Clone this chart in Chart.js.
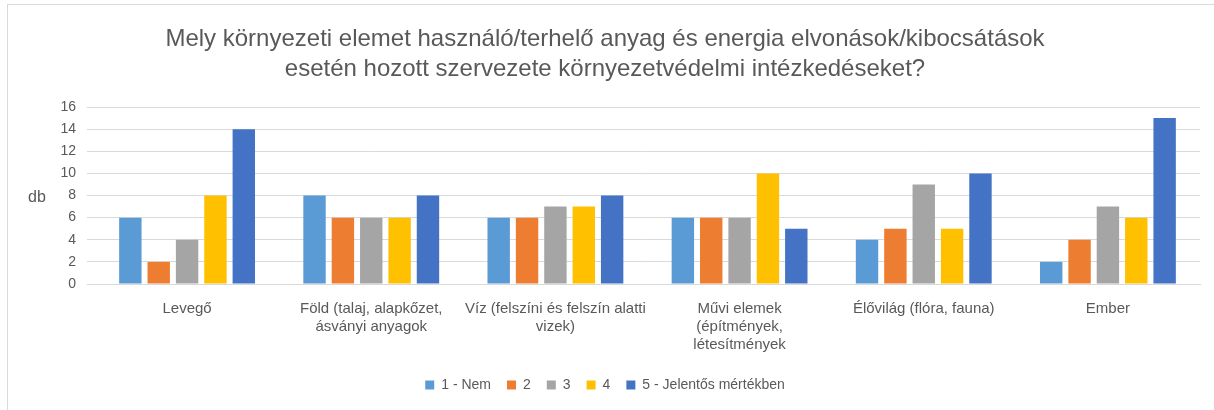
<!DOCTYPE html>
<html>
<head>
<meta charset="utf-8">
<script src="https://cdn.jsdelivr.net/npm/chart.js@4/dist/chart.umd.min.js"></script>
<style>
  body { margin: 0; background: #fff; }
  #wrap { position: relative; width: 1214px; height: 410px; }
  #frame { position: absolute; left: 7px; top: 4px; right: 0; bottom: 0; border-left: 1px solid #d9d9d9; border-top: 1px solid #d9d9d9; }
  canvas { position: absolute; left: 0; top: 0; }
</style>
</head>
<body>
<div id="wrap">
  <div id="frame"></div>
  <canvas id="chart" width="1214" height="410"></canvas>
</div>
<script>
const categories = [
  "Levegő",
  ["Föld (talaj, alapkőzet,", "ásványi anyagok"],
  ["Víz (felszíni és felszín alatti", "vizek)"],
  ["Művi elemek", "(építmények,", "létesítmények"],
  "Élővilág (flóra, fauna)",
  "Ember"
];
const seriesNames = ["1 - Nem", "2", "3", "4", "5 - Jelentős mértékben"];
const nem = [6, 8, 6, 6, 4, 2];
const ketto = [2, 6, 6, 6, 5, 4];
const harom = [4, 6, 7, 6, 9, 7];
const negy = [8, 6, 7, 10, 5, 6];
const jelentos = [14, 8, 8, 5, 10, 15];
const colors = ["#5B9BD5", "#ED7D31", "#A5A5A5", "#FFC000", "#4472C4"];

const font = "'Liberation Sans', Arial, sans-serif";
const gray = "#595959";

// "db" felirat vízszintesen, a tengely mellett
const dbLabel = {
  id: 'dbLabel',
  afterDraw(chart) {
    const ctx = chart.ctx;
    const a = chart.chartArea;
    ctx.save();
    ctx.font = "16px " + font;
    ctx.fillStyle = gray;
    ctx.textAlign = "center";
    ctx.textBaseline = "middle";
    ctx.fillText("db", 37, (a.top + a.bottom) / 2 + 2);
    ctx.restore();
  }
};

const values = [nem, ketto, harom, negy, jelentos];

new Chart(document.getElementById('chart'), {
  type: 'bar',
  data: {
    labels: categories,
    datasets: values.map((v, i) => ({
      label: seriesNames[i],
      data: v,
      backgroundColor: colors[i],
      categoryPercentage: 0.77,
      barPercentage: 0.79
    }))
  },
  options: {
    responsive: false,
    animation: false,
    layout: { padding: { left: 10, right: 14, top: 0, bottom: 8 } },
    plugins: {
      title: {
        display: true,
        text: ["Mely környezeti elemet használó/terhelő anyag és energia elvonások/kibocsátások",
               "esetén hozott szervezete környezetvédelmi intézkedéseket?"],
        color: gray,
        font: { family: font, size: 24, weight: 'normal', lineHeight: 1.25 },
        padding: { top: 24, bottom: 23 }
      },
      legend: {
        position: 'bottom',
        labels: {
          color: gray,
          font: { family: font, size: 14 },
          boxWidth: 9,
          boxHeight: 9,
          padding: 16
        }
      },
      tooltip: { enabled: false }
    },
    scales: {
      x: {
        grid: { display: false },
        border: { color: "#d9d9d9" },
        ticks: { color: gray, font: { family: font, size: 15, lineHeight: 1.2 }, maxRotation: 0, autoSkip: false, padding: 8 }
      },
      y: {
        min: 0,
        max: 16,
        ticks: { stepSize: 2, color: gray, font: { family: font, size: 14 }, padding: 11 },
        grid: { color: "#d9d9d9" },
        border: { display: false },
        afterFit(s) { s.width = 85; }
      }
    }
  },
  plugins: [dbLabel]
});
</script>
</body>
</html>
